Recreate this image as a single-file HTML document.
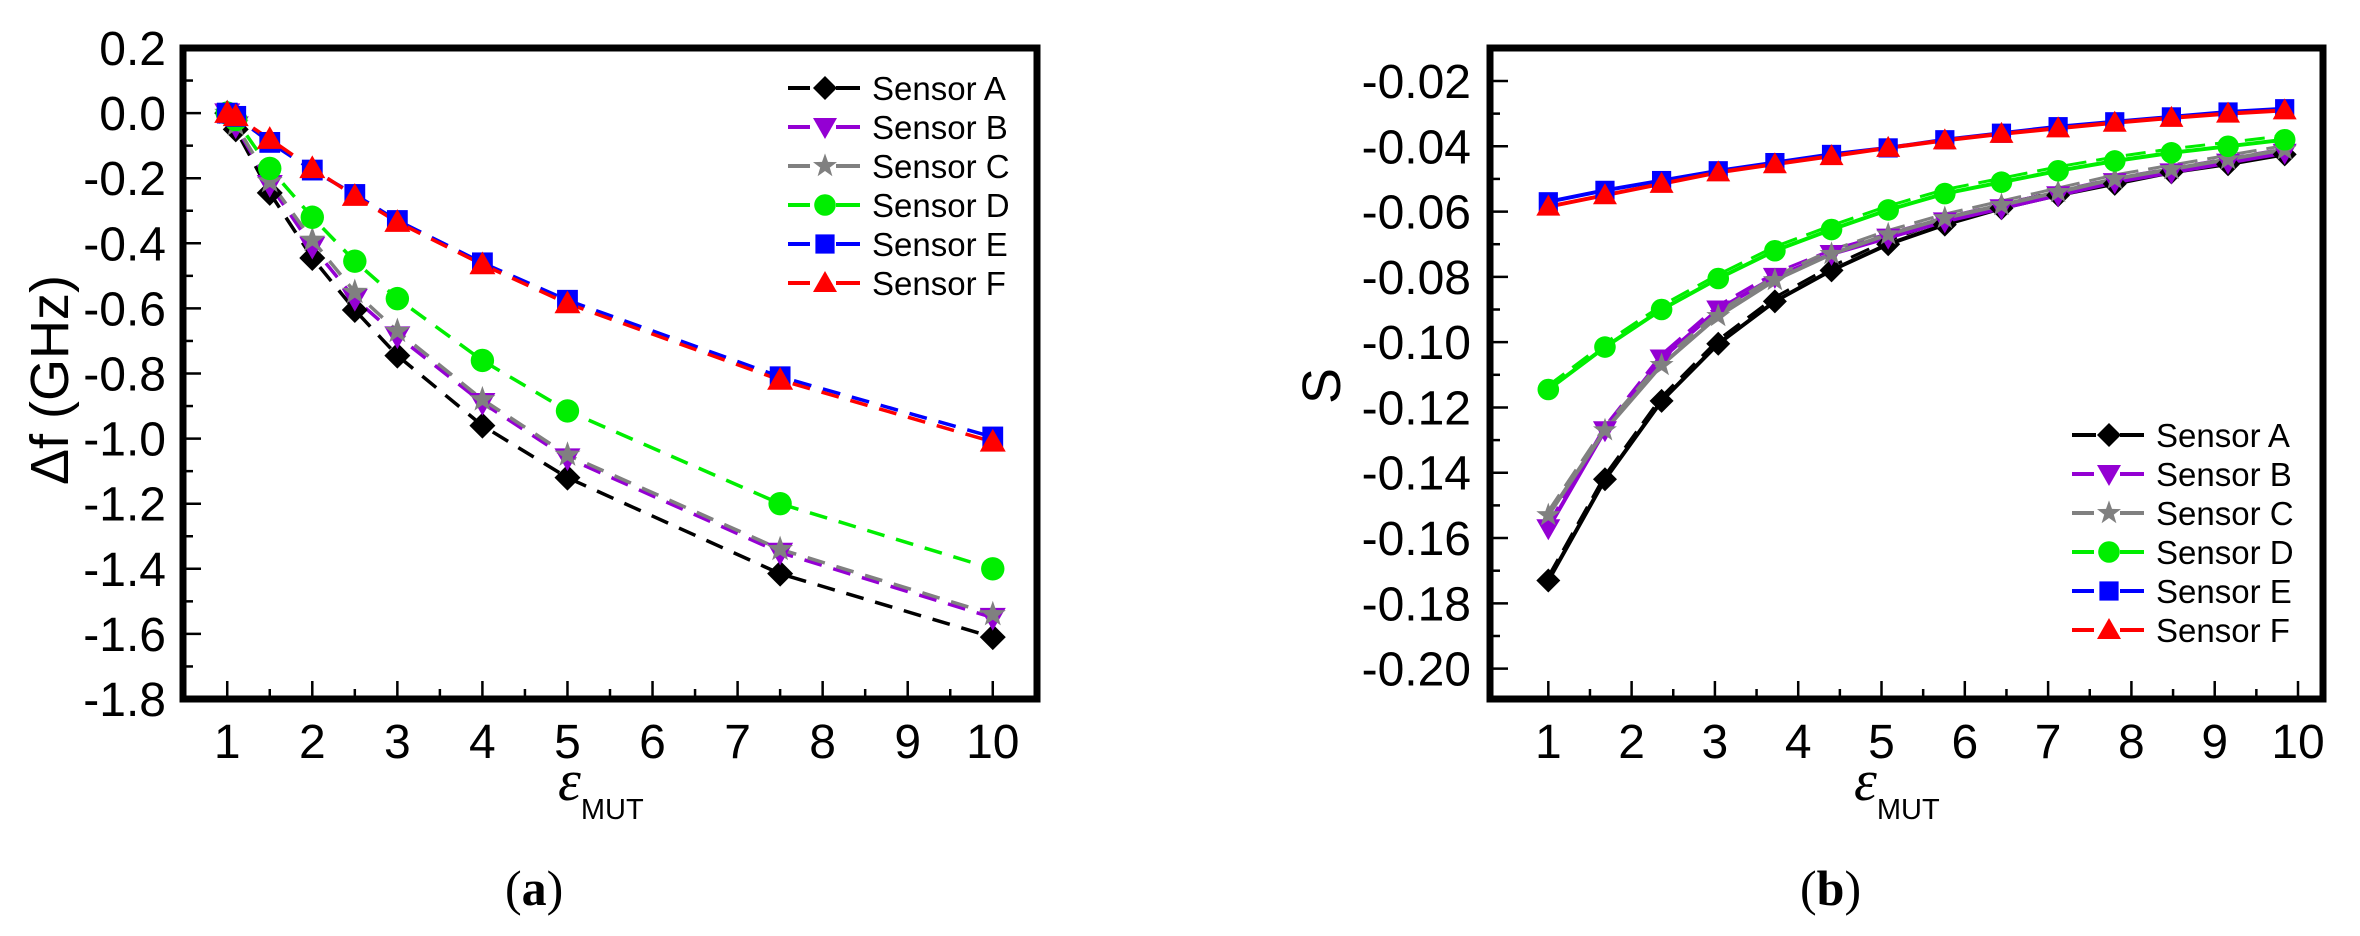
<!DOCTYPE html>
<html><head><meta charset="utf-8">
<style>
html,body{margin:0;padding:0;background:#fff;}
svg{display:block;font-family:"Liberation Sans",Arial,sans-serif;}
</style></head>
<body>
<svg id="fig" width="2360" height="936" viewBox="0 0 2360 936" xmlns="http://www.w3.org/2000/svg">
<g id="panelA"></g>
<g id="panelB"></g>
</svg>
<script>
// ---------- Data: panel (a) ----------
const xA = [1, 1.1, 1.5, 2, 2.5, 3, 4, 5, 7.5, 10];
const aSensorA = [0, -0.05, -0.245, -0.445, -0.605, -0.745, -0.96, -1.12, -1.415, -1.61];
const aSensorB = [0, -0.04, -0.22, -0.41, -0.57, -0.685, -0.89, -1.06, -1.35, -1.55];
const aSensorC = [0, -0.035, -0.21, -0.39, -0.55, -0.67, -0.88, -1.05, -1.34, -1.54];
const aSensorD = [0, -0.02, -0.17, -0.32, -0.455, -0.57, -0.76, -0.915, -1.2, -1.4];
const aSensorE = [0, -0.01, -0.09, -0.175, -0.25, -0.33, -0.46, -0.575, -0.81, -0.995];
const aSensorF = [0, -0.01, -0.08, -0.17, -0.255, -0.335, -0.465, -0.585, -0.82, -1.01];
const aYTicks = ["0.2","0.0","-0.2","-0.4","-0.6","-0.8","-1.0","-1.2","-1.4","-1.6","-1.8"];
const aXTicks = ["1","2","3","4","5","6","7","8","9","10"];
// ---------- Data: panel (b) ----------
const xB = [1, 1.68, 2.36, 3.04, 3.72, 4.4, 5.08, 5.76, 6.44, 7.12, 7.8, 8.48, 9.16, 9.84];
const bSensorA = [-0.173, -0.142, -0.118, -0.1005, -0.0875, -0.078, -0.070, -0.064, -0.059, -0.055, -0.0515, -0.048, -0.0455, -0.0425];
const bSensorB = [-0.157, -0.127, -0.105, -0.090, -0.080, -0.073, -0.068, -0.063, -0.059, -0.055, -0.051, -0.048, -0.045, -0.042];
const bSensorC = [-0.153, -0.127, -0.107, -0.092, -0.081, -0.073, -0.067, -0.062, -0.058, -0.054, -0.050, -0.047, -0.044, -0.041];
const bSensorD = [-0.1145, -0.1015, -0.090, -0.0805, -0.072, -0.0655, -0.0595, -0.0545, -0.051, -0.0475, -0.0445, -0.042, -0.040, -0.038];
const bSensorE = [-0.057, -0.0535, -0.0505, -0.0475, -0.045, -0.0425, -0.0405, -0.038, -0.036, -0.034, -0.0325, -0.031, -0.0295, -0.0285];
const bSensorF = [-0.0585, -0.055, -0.0515, -0.048, -0.0455, -0.043, -0.0405, -0.0382, -0.0362, -0.0345, -0.0328, -0.0313, -0.030, -0.029];
const bYTicks = ["-0.02","-0.04","-0.06","-0.08","-0.10","-0.12","-0.14","-0.16","-0.18","-0.20"];
const bXTicks = ["1","2","3","4","5","6","7","8","9","10"];
const sensorNames = ["Sensor A","Sensor B","Sensor C","Sensor D","Sensor E","Sensor F"];

const NS = "http://www.w3.org/2000/svg";
function mk(parent, tag, attrs, text){
  const e = document.createElementNS(NS, tag);
  for (const k in attrs) e.setAttribute(k, attrs[k]);
  if (text !== undefined) e.textContent = text;
  parent.appendChild(e);
  return e;
}
const styles = [
  {c:"#000000", m:"diamond"},
  {c:"#9400d3", m:"tridown"},
  {c:"#808080", m:"star"},
  {c:"#00ee00", m:"circle"},
  {c:"#0000ff", m:"square"},
  {c:"#ff0000", m:"triup"}
];
function marker(g, type, x, y, s, color){
  let el;
  if (type === "diamond") el = mk(g, "polygon", {points:`${x},${y-s} ${x+s},${y} ${x},${y+s} ${x-s},${y}`, fill:color});
  else if (type === "tridown") el = mk(g, "polygon", {points:`${x-s},${y-s*0.75} ${x+s},${y-s*0.75} ${x},${y+s}`, fill:color});
  else if (type === "triup") el = mk(g, "polygon", {points:`${x-s},${y+s*0.75} ${x+s},${y+s*0.75} ${x},${y-s}`, fill:color});
  else if (type === "square") el = mk(g, "rect", {x:x-s*0.8, y:y-s*0.8, width:s*1.6, height:s*1.6, fill:color});
  else if (type === "circle") el = mk(g, "circle", {cx:x, cy:y, r:s*0.9, fill:color});
  else {
    let p = [];
    for (let i = 0; i < 10; i++) {
      const r = i % 2 ? s*0.42 : s*1.05, a = -Math.PI/2 + i*Math.PI/5;
      p.push((x + r*Math.cos(a)).toFixed(1) + "," + (y + r*Math.sin(a)).toFixed(1));
    }
    el = mk(g, "polygon", {points:p.join(" "), fill:color});
  }
  
  
  return el;
}

function panel(g, cfg){
  const {L,T,R,B,xmin,xmax,ymin,ymax} = cfg;
  const sx = v => L + (v - xmin) / (xmax - xmin) * (R - L);
  const sy = v => B - (v - ymin) / (ymax - ymin) * (B - T);
  const tg = mk(g, "g", {stroke:"#000", "stroke-width":2.5});
  
  
  for (let i = 0; i < cfg.xTicks.length; i++) {
    const v = +cfg.xTicks[i];
    mk(tg, "line", {x1:sx(v), x2:sx(v), y1:B, y2:B-18});
    if (v + 0.5 < xmax) mk(tg, "line", {x1:sx(v+0.5), x2:sx(v+0.5), y1:B, y2:B-10});
    const t = mk(g, "text", {x:sx(v), y:B+59, "font-size":48, "text-anchor":"middle"}, cfg.xTicks[i]);
    
    
  }
  for (let i = 0; i < cfg.yTicks.length; i++) {
    const v = +cfg.yTicks[i];
    mk(tg, "line", {x1:L, x2:L+18, y1:sy(v), y2:sy(v)});
    const mv = v - cfg.yStep/2;
    if (mv > ymin) mk(tg, "line", {x1:L, x2:L+10, y1:sy(mv), y2:sy(mv)});
    const t = mk(g, "text", {x:cfg.labelX, y:sy(v)+17, "font-size":48, "text-anchor":"end"}, cfg.yTicks[i]);
    
    
  }
  for (let s = 0; s < cfg.series.length; s++) {
    const ys = cfg.series[s], st = styles[s];
    const sg = mk(g, "g", {});
    
    
    const pts = cfg.xs.map((x, i) => sx(x).toFixed(1) + "," + sy(ys[i]).toFixed(1)).join(" ");
    const pl = mk(sg, "polyline", {points:pts, fill:"none", stroke:st.c, "stroke-width":cfg.lw, "stroke-dasharray":cfg.dash, "stroke-linejoin":"round"});
    
    
    if (cfg.dashOverlay && s < 4) {
      const pts2 = cfg.xs.map((x, i) => sx(x).toFixed(1) + "," + (sy(ys[i]) - 4).toFixed(1)).join(" ");
      const pd = mk(sg, "polyline", {points:pts2, fill:"none", stroke:st.c, "stroke-width":3, "stroke-dasharray":"20 10"});
      
      
    }
  }
  for (let s = 0; s < cfg.series.length; s++) {
    const ys = cfg.series[s], st = styles[s];
    const mg = mk(g, "g", {});
    
    
    cfg.xs.forEach((x, i) => marker(mg, st.m, sx(x), sy(ys[i]), cfg.ms, st.c));
  }
  const fr = mk(g, "rect", {x:L, y:T, width:R-L, height:B-T, fill:"none", stroke:"#000", "stroke-width":7});
  
  
  const lg = mk(g, "g", {});
  
  
  for (let s = 0; s < 6; s++) {
    const y = cfg.legY + s * 39, st = styles[s];
    const le = mk(lg, "g", {});
    
    
    mk(le, "line", {x1:cfg.legX, x2:cfg.legX+72, y1:y, y2:y, stroke:st.c, "stroke-width":4, "stroke-dasharray": (s === 0 && cfg.dashOverlay) ? "none" : "22 8 100 8"});
    mk(le, "rect", {x:cfg.legX+24, y:y-12, width:24, height:24, fill:"#fff"});
    marker(le, st.m, cfg.legX+37, y, 12, st.c);
    mk(le, "text", {x:cfg.legX+84, y:y+12, "font-size":33}, sensorNames[s]);
  }
}

panel(document.getElementById("panelA"), {
  L:183, T:48, R:1037, B:699, xmin:0.48, xmax:10.52, ymin:-1.8, ymax:0.2,
  xs:xA, series:[aSensorA,aSensorB,aSensorC,aSensorD,aSensorE,aSensorF],
  xTicks:aXTicks, yTicks:aYTicks, yStep:0.2, labelX:166,
  lw:3.5, dash:"18 12", ms:13, legX:788, legY:88, dashOverlay:false
});
panel(document.getElementById("panelB"), {
  L:1490, T:48, R:2323, B:699, xmin:0.30, xmax:10.3, ymin:-0.2093, ymax:-0.0099,
  xs:xB, series:[bSensorA,bSensorB,bSensorC,bSensorD,bSensorE,bSensorF],
  xTicks:bXTicks, yTicks:bYTicks, yStep:0.02, labelX:1471,
  lw:4, dash:"none", ms:12, legX:2072, legY:435, dashOverlay:true
});
</script>
<svg style="position:absolute;left:0;top:0" width="2360" height="936" xmlns="http://www.w3.org/2000/svg">
  <text transform="translate(68,380) rotate(-90)" font-family="Liberation Sans, sans-serif" font-size="54" text-anchor="middle">Δf (GHz)</text>
  <text x="558" y="800" font-family="Liberation Serif, serif" font-style="italic" font-size="58">ε<tspan font-family="Liberation Sans, sans-serif" font-style="normal" font-size="29" dy="19">MUT</tspan></text>
  <text x="505" y="905" font-family="Liberation Serif, serif" font-size="50">(<tspan font-weight="bold">a</tspan>)</text>
  <text transform="translate(1340,386) rotate(-90)" font-family="Liberation Sans, sans-serif" font-size="54" text-anchor="middle">S</text>
  <text x="1854" y="800" font-family="Liberation Serif, serif" font-style="italic" font-size="58">ε<tspan font-family="Liberation Sans, sans-serif" font-style="normal" font-size="29" dy="19">MUT</tspan></text>
  <text x="1800" y="905" font-family="Liberation Serif, serif" font-size="50">(<tspan font-weight="bold">b</tspan>)</text>
</svg>
</body></html>
